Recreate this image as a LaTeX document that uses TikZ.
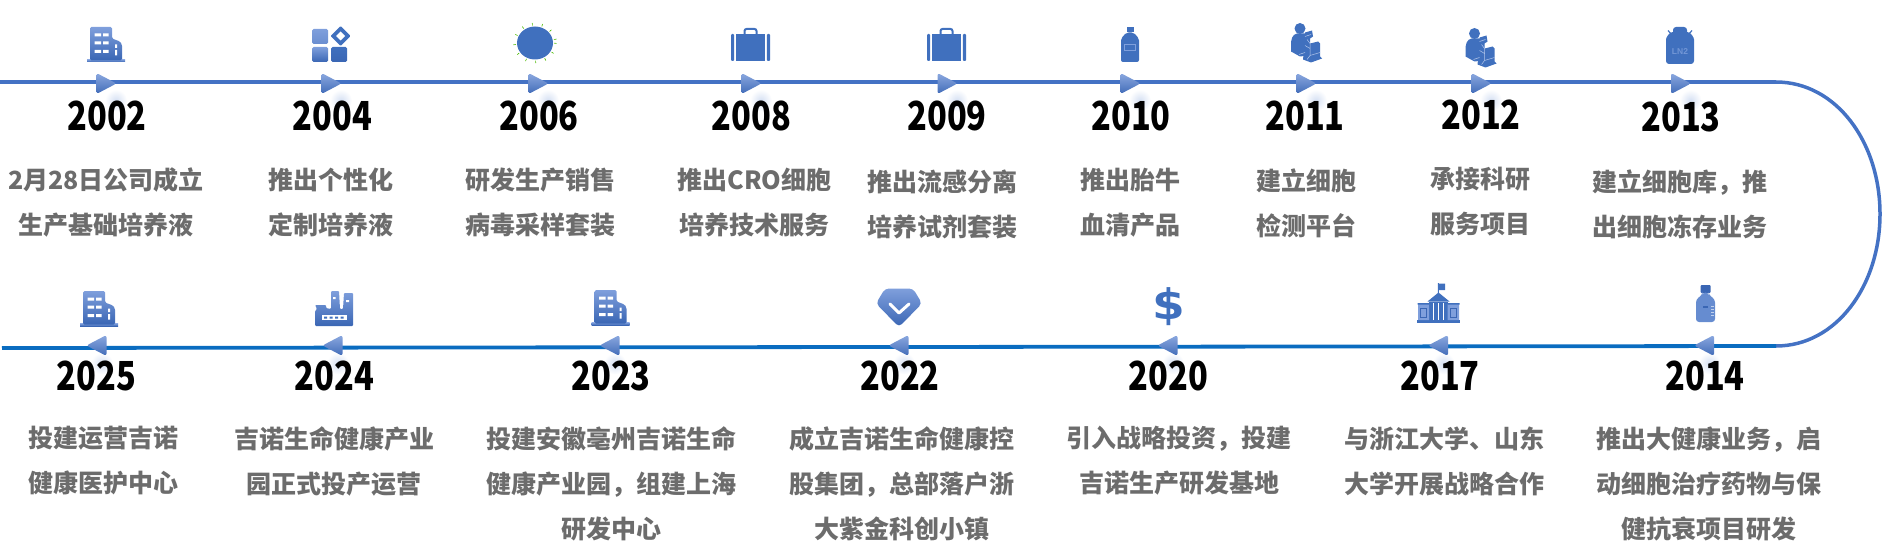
\documentclass[tikz,border=0pt]{standalone}
\usepackage{fontspec}
\newfontfamily\cjkfont{Noto Sans CJK SC}
\newfontfamily\yearfont[FakeStretch=0.815]{Noto Sans CJK SC}
\newfontfamily\dollarfont[FakeStretch=1.12]{DejaVu Sans}
\newfontfamily\labelfont{Liberation Sans}
\definecolor{linetop}{HTML}{4472C4}
\definecolor{linebot}{HTML}{0A6CC0}
\definecolor{iconblue}{HTML}{4070BE}
\definecolor{iconlight}{HTML}{7F9FDC}
\definecolor{icondark}{HTML}{3A66B4}
\definecolor{glowblue}{HTML}{D5E0F3}
\definecolor{descgrey}{HTML}{6C6C6C}
\begin{document}
\begin{tikzpicture}[x=1pt,y=-1pt]
\tikzset{
  year/.style={font=\yearfont\fontsize{40}{40}\selectfont\bfseries,inner sep=0},
  desc/.style={font=\cjkfont\fontsize{25}{45}\selectfont\bfseries,text=descgrey,align=center,inner sep=0},
  icon/.style={top color=iconlight,bottom color=icondark},
  flat/.style={fill=iconblue},
  hole/.style={fill=white},
  pics/arrowright/.style={code={
    \shade[inner color=glowblue,outer color=white] (10,17) circle (11);
    \path[top color=iconlight!90!white,bottom color=icondark!90!iconlight,rounded corners=2.5] (-9.5,-10.5) -- (10.5,0) -- (-9.5,10.5) -- cycle;
  }},
  pics/arrowleft/.style={code={
    \shade[inner color=glowblue,outer color=white] (5,18) circle (11);
    \path[top color=iconlight!90!white,bottom color=icondark!90!iconlight,rounded corners=2.5] (9.5,-10.5) -- (-10.5,0) -- (9.5,10.5) -- cycle;
  }},
  pics/building/.style={code={
    \path[icon] (-19,15) rectangle (19,17.5);
    \path[icon,rounded corners=1.5] (-16,-17.5) -- (6,-17.5) -- (6,-6) -- (14,-3) -- (16,0) -- (16,16) -- (-16,16) -- cycle;
    \fill[hole] (-11.5,-11) rectangle (-5,-8) (-3,-11) rectangle (2.6,-8);
    \fill[hole] (-11.5,-3) rectangle (-5,0) (-3,-3) rectangle (2.6,0);
    \fill[hole] (-11.5,5.5) rectangle (-5,8.5) (-3,5.5) rectangle (2.6,8.5);
    \fill[hole] (9,0) rectangle (11,3.5) (9,5.5) rectangle (11,11);
  }},
  pics/blocks/.style={code={
    \path[top color=iconlight,bottom color=iconlight!70!icondark,rounded corners=1.5] (-19,-15.5) rectangle (-3,-0.5);
    \path[icon,rounded corners=1.5] (-19,2.5) rectangle (-3,17.5);
    \path[top color=iconblue,bottom color=icondark,rounded corners=1.5] (0,2.5) rectangle (16,17.5);
    \fill[iconblue,rounded corners=1] (9.5,-18.5) -- (19.5,-8.5) -- (9.5,1.5) -- (-0.5,-8.5) -- cycle;
    \fill[hole] (9.5,-13) -- (14,-8.5) -- (9.5,-4) -- (5,-8.5) -- cycle;
  }},
  pics/virus/.style={code={
    \draw[green!55!black!60!lime,line width=2.5,dash pattern=on 0.6 off 9.4] (0,0) ellipse [x radius=20.5,y radius=19];
    \fill[iconblue] (0,0) ellipse [x radius=18,y radius=16.5];
  }},
  pics/suitcase/.style={code={
    \draw[iconblue,line width=2,rounded corners=2] (-6,-10) -- (-6,-15.5) -- (6,-15.5) -- (6,-10);
    \fill[flat] (-14.5,-10.5) rectangle (14.5,16.5);
    \fill[flat,rounded corners=1] (-19.5,-10.5) rectangle (-16.3,16.5) (16.3,-10.5) rectangle (19.5,16.5);
  }},
  pics/flask/.style={code={
    \fill[flat] (-3.5,-17.5) rectangle (3.5,-12.5);
    \fill[flat,rounded corners=2] (-3.5,-12) -- (3.5,-12) -- (9,-6) -- (9,17.5) -- (-9,17.5) -- (-9,-6) -- cycle;
    \draw[iconlight,line width=0.7] (-5.5,0) rectangle (5.5,6);
  }},
  pics/scientist/.style={code={
    \fill[flat] (-6,-14) circle (5.5);
    \fill[flat] (-9,-9) .. controls (-14,-8) and (-15,-3) .. (-15,3) -- (-15,9) -- (-6,14) -- (2,13) -- (2,-9) -- cycle;
    \fill[flat] (-1,-10) -- (6,-12) -- (7,-6) -- (4,-4) -- (4,1) -- (12,-1) -- (14,1) -- (14,14) -- (16,16) -- (5,20) -- (-3,17) -- (-2,8) -- (1,2) -- cycle;
    \draw[iconlight!60!white,line width=0.5] (-1,-6) -- (5,-8) (1,-3) -- (4,1) -- (4,13) -- (14,10) (4,13) -- (1,17) (-7,12) -- (-1,10) (-1,3) -- (4,6);
  }},
  pics/tank/.style={code={
    \fill[flat,rounded corners=3] (-7,-18.5) rectangle (7,-9);
    \draw[iconblue,line width=1.2] (-12,-15) -- (-8,-10.5) (12,-15) -- (8,-10.5);
    \fill[flat,rounded corners=3] (-7,-14) .. controls (-11,-12) and (-14,-8) .. (-14,-3) -- (-14,18.5) -- (14,18.5) -- (14,-3) .. controls (14,-8) and (11,-12) .. (7,-14) -- cycle;
    \node[text=iconlight!80!iconblue,inner sep=0,font=\labelfont\fontsize{8.5}{9}\selectfont\bfseries] (tanklabel) at (0,6.5) {LN2};
  }},
  pics/college/.style={code={
    \fill[flat] (-0.7,-20) rectangle (0.4,-9) (0.4,-19.5) rectangle (6.5,-13);
    \fill[flat] (0,-10.5) -- (11,-1.5) -- (-11,-1.5) -- cycle;
    \fill[flat] (-21.5,17) rectangle (21.5,20);
    \fill[flat] (-9.5,-1) rectangle (9,17);
    \fill[iconlight] (-20.5,1) rectangle (-9.5,17) (9,1) rectangle (20.5,17);
    \fill[flat] (-21,0) rectangle (-9.5,1.5) (9,0) rectangle (21,1.5);
    \draw[white,line width=0.5] (-5,0) -- (-5,17) (0,0) -- (0,17) (5,0) -- (5,17);
    \draw[icondark,line width=0.5] (-18,5) rectangle (-12,14) (12,5) rectangle (18,14);
  }},
  pics/reagent/.style={code={
    \fill[icondark,rounded corners=1] (-5,-18.5) rectangle (5,-10.5);
    \fill[iconlight!60!iconblue,rounded corners=3] (-3,-11) -- (3,-11) -- (3,-9) -- (9.5,-4) -- (9.5,18.5) -- (-9.5,18.5) -- (-9.5,-4) -- (-3,-9) -- cycle;
    \fill[icondark] (-3,2) rectangle (2,4.5);
    \draw[white,opacity=0.6,line width=0.5] (8,3) -- (5,3) (8,6) -- (5,6) (8,9) -- (5,9) (8,12) -- (5,12);
  }},
  pics/factory/.style={code={
    \path[icon,rounded corners=1] (-19,-3) -- (-8,-3) -- (-8,0) -- (-3,1) -- (-3,-17) -- (5,-17) -- (6,1) -- (9,1) -- (10,-15) -- (19,-15) -- (19,18) -- (-19,18) -- (-19,3) -- (-17,1) -- cycle;
    \fill[hole] (-12.5,7) rectangle (12.5,12);
    \fill[iconblue] (-10,8.5) rectangle (-7,10.5) (-4.5,8.5) rectangle (-1.5,10.5) (1,8.5) rectangle (4,10.5) (6.5,8.5) rectangle (9.5,10.5);
    \fill[hole] (-1,-11) rectangle (1.5,-9) (12,-8) rectangle (15,-6);
  }},
  pics/gem/.style={code={
    \path[icon,rounded corners=4] (-14,-18.5) -- (14,-18.5) -- (23,-3.5) -- (0,20) -- (-23,-3.5) -- cycle;
    \draw[white,line width=3,line cap=round,line join=round] (-9,-3) -- (0,6) -- (10,-3);
  }}
}
\useasboundingbox (0,0) rectangle (1883,559);
% timeline
\coordinate (topstart) at (0,82);
\coordinate (turntop) at (1776,82);
\coordinate (turnmid) at (1880,214);
\coordinate (turnbot) at (1776,346);
\coordinate (botend) at (2,348);
\draw[linetop,line width=3.8] (topstart) -- (turntop);
\draw[linetop,line width=3.5] (turntop) .. controls (1836,82) and (1880,142) .. (turnmid) .. controls (1880,286) and (1836,346) .. (turnbot);
\draw[linebot,line width=3.8] (turnbot) -- (botend);
% arrows on the line
\pic (a2002) at (106,83.5) {arrowright};
\pic (a2004) at (331,83.5) {arrowright};
\pic (a2006) at (538,83.5) {arrowright};
\pic (a2008) at (751,83.5) {arrowright};
\pic (a2009) at (947,83.5) {arrowright};
\pic (a2010) at (1130,83.5) {arrowright};
\pic (a2011) at (1306,83.5) {arrowright};
\pic (a2012) at (1481,83.5) {arrowright};
\pic (a2013) at (1680.5,83.5) {arrowright};
\pic (a2025) at (97,345.5) {arrowleft};
\pic (a2024) at (333,345.5) {arrowleft};
\pic (a2023) at (610,345.5) {arrowleft};
\pic (a2022) at (899,345.5) {arrowleft};
\pic (a2020) at (1168,345.5) {arrowleft};
\pic (a2017) at (1438.5,345.5) {arrowleft};
\pic (a2014) at (1704.5,345.5) {arrowleft};
% icons
\pic (i2002) at (106,44.5) {building};
\pic (i2004) at (331,44.5) {blocks};
\pic (i2006) at (535,43) {virus};
\pic (i2008) at (750.5,44.5) {suitcase};
\pic (i2009) at (946.5,44.5) {suitcase};
\pic (i2010) at (1130,44.5) {flask};
\pic (i2011) at (1306,42.5) {scientist};
\pic (i2012) at (1480.5,47.5) {scientist};
\pic (i2013) at (1680,45.5) {tank};
\pic (i2025) at (99,308.5) {building};
\pic (i2024) at (334,308) {factory};
\pic (i2023) at (610.5,307.5) {building};
\pic (i2022) at (899,307) {gem};
\node[inner sep=0,text=iconblue,font=\dollarfont\fontsize{42}{42}\selectfont\bfseries] (i2020) at (1168.5,307) {\$};
\pic (i2017) at (1438.5,303) {college};
\pic (i2014) at (1705.5,303.5) {reagent};
% years
\node[year] (y2002) at (107,116) {2002};
\node[year] (y2004) at (332.5,116) {2004};
\node[year] (y2006) at (539,116) {2006};
\node[year] (y2008) at (751.5,116) {2008};
\node[year] (y2009) at (947,116) {2009};
\node[year] (y2010) at (1131,116) {2010};
\node[year] (y2011) at (1305,116) {2011};
\node[year] (y2012) at (1481,115) {2012};
\node[year] (y2013) at (1681,117) {2013};
\node[year] (y2025) at (96.5,376) {2025};
\node[year] (y2024) at (334.5,376) {2024};
\node[year] (y2023) at (611,376) {2023};
\node[year] (y2022) at (900,376) {2022};
\node[year] (y2020) at (1168.5,376) {2020};
\node[year] (y2017) at (1440,376) {2017};
\node[year] (y2014) at (1705,376) {2014};
% descriptions
\node[desc] (d2002) at (106,202) {2月28日公司成立\\生产基础培养液};
\node[desc] (d2004) at (331,202) {推出个性化\\定制培养液};
\node[desc] (d2006) at (540,202) {研发生产销售\\病毒采样套装};
\node[desc] (d2008) at (754.5,202) {推出CRO细胞\\培养技术服务};
\node[desc] (d2009) at (942.5,204) {推出流感分离\\培养试剂套装};
\node[desc] (d2010) at (1130,202.5) {推出胎牛\\血清产品};
\node[desc] (d2011) at (1306,203.5) {建立细胞\\检测平台};
\node[desc] (d2012) at (1480,202) {承接科研\\服务项目};
\node[desc] (d2013) at (1680,204) {建立细胞库，推\\出细胞冻存业务};
\node[desc] (d2025) at (103.5,461) {投建运营吉诺\\健康医护中心};
\node[desc] (d2024) at (334,461) {吉诺生命健康产业\\园正式投产运营};
\node[desc] (d2023) at (611,483.5) {投建安徽亳州吉诺生命\\健康产业园，组建上海\\研发中心};
\node[desc] (d2022) at (902,483.5) {成立吉诺生命健康控\\股集团，总部落户浙\\大紫金科创小镇};
\node[desc] (d2020) at (1179,461) {引入战略投资，投建\\吉诺生产研发基地};
\node[desc] (d2017) at (1444,461) {与浙江大学、山东\\大学开展战略合作};
\node[desc] (d2014) at (1709,483.5) {推出大健康业务，启\\动细胞治疗药物与保\\健抗衰项目研发};
\end{tikzpicture}
\end{document}
